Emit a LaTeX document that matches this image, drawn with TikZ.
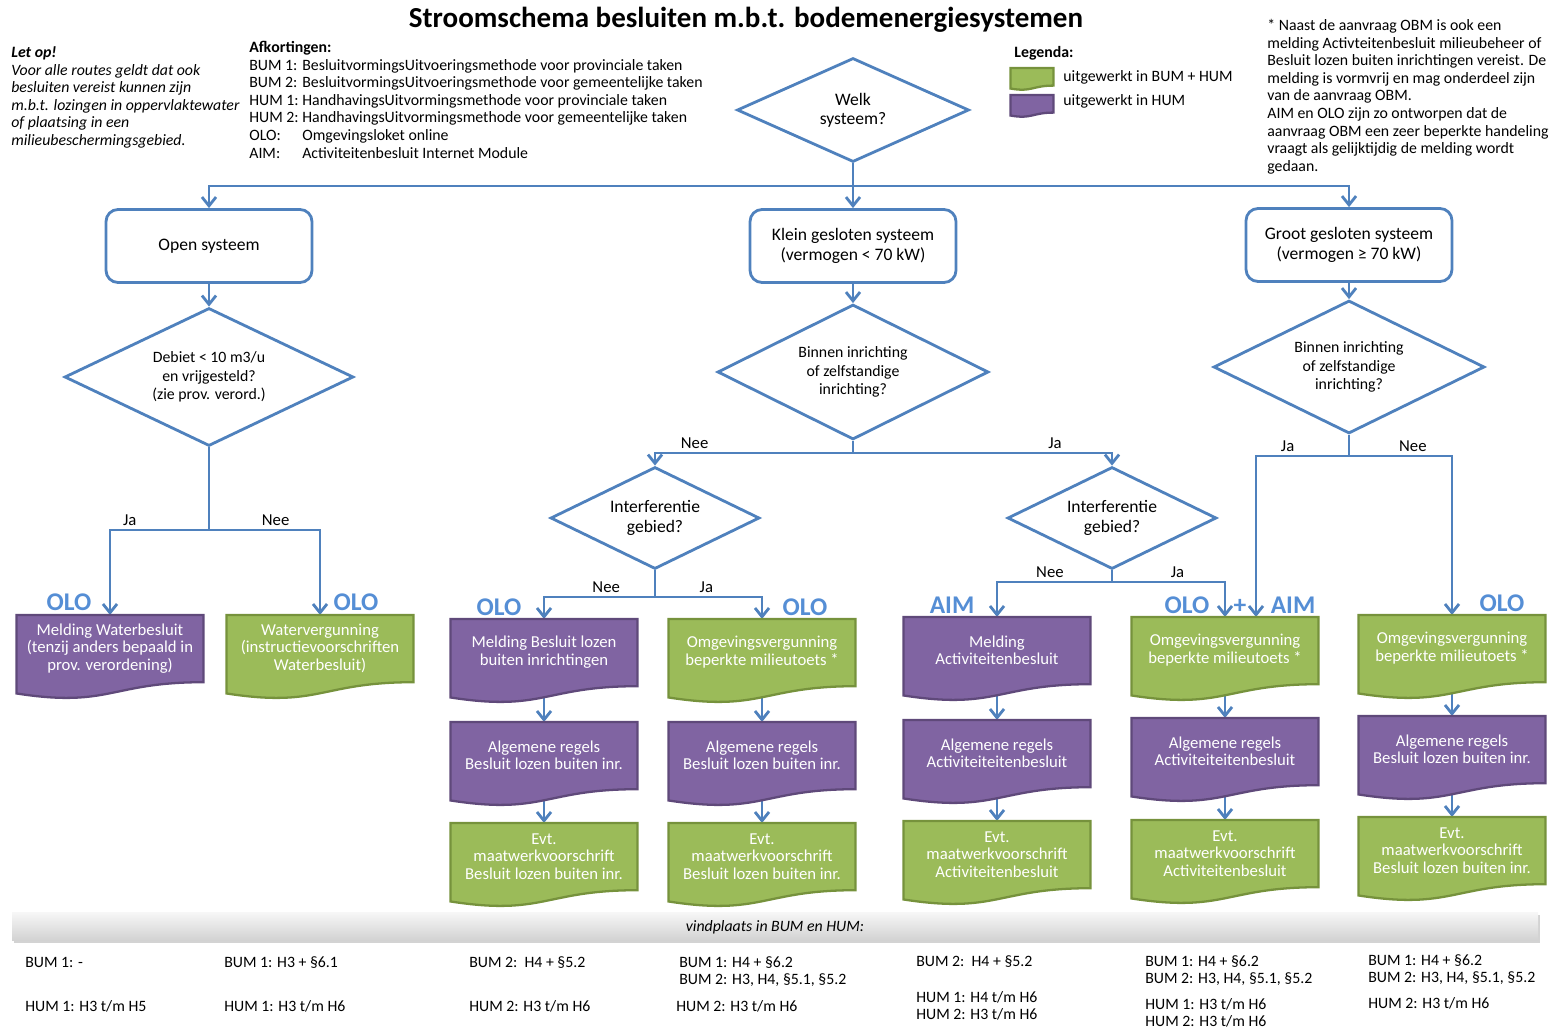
\documentclass[tikz,border=0pt]{standalone}
\usepackage{fontspec}
\setmainfont{Carlito}
\usetikzlibrary{shapes.geometric,arrows.meta,backgrounds,shadows}

\definecolor{lijnblauw}{RGB}{79,129,189}
\definecolor{labelblauw}{RGB}{85,142,213}
\definecolor{paarsvul}{RGB}{128,100,162}
\definecolor{paarsrand}{RGB}{95,73,122}
\definecolor{groenvul}{RGB}{155,187,89}
\definecolor{groenrand}{RGB}{118,146,60}

\tikzset{
  lijn/.style={draw=lijnblauw, line width=1.6pt},
  pijl/.style={lijn, -{Straight Barb[length=5pt,width=8pt]}},
  systeem/.style={lijn, rounded corners=0.24cm, minimum width=4.12cm, minimum height=1.46cm, align=center, font=\fontsize{10}{11}\selectfont},
  vraag/.style={lijn, diamond, aspect=2, inner sep=0pt, align=center, font=\fontsize{9}{10.5}\selectfont},
  paars/.style={fill=paarsvul, draw=paarsrand, line width=1.3pt},
  groen/.style={fill=groenvul, draw=groenrand, line width=1.3pt},
  doctekst/.style={anchor=north, minimum width=3.74cm, minimum height=1.32cm, inner sep=0pt, align=center, text=white, font=\fontsize{9.5}{10}\selectfont},
  loket/.style={anchor=base, text=labelblauw, font=\fontsize{14.5}{16}\selectfont\bfseries},
  keuze/.style={above, inner sep=1.5pt, font=\fontsize{9.5}{10}\selectfont},
  tekst/.style={anchor=north west, inner sep=0pt, font=\fontsize{9}{10}\selectfont},
  tekstw/.style={anchor=west, inner sep=0pt, font=\fontsize{9}{10}\selectfont},
  vind/.style={anchor=base west, inner sep=0pt, font=\fontsize{9}{10}\selectfont},
}

% document shape: centre x, top y, width, height, style
\newcommand\docvorm[5]{%
  \filldraw[#5] (#1-#3/2,#2) -- (#1+#3/2,#2) -- (#1+#3/2,#2+0.8*#4)
    .. controls (#1,#2+0.8*#4) and (#1,#2+1.107*#4) .. (#1-#3/2,#2+0.934*#4) -- cycle;}
% document with text: name, centre x, top y, style, text
\newcommand\docblok[5]{%
  \docvorm{#2}{#3}{187}{84}{#4}
  \node[doctekst] (#1) at (#2,#3) {#5};}

\begin{document}
\begin{tikzpicture}[x=0.02cm, y=-0.02cm]
\useasboundingbox (0,0) rectangle (1557,1030);

% titel, toelichting en legenda
\node[font=\fontsize{16.5}{18}\selectfont\bfseries] (titel) at (746,20) {Stroomschema besluiten m.b.t. bodemenergiesystemen};

\node[tekst, font=\fontsize{9}{10}\selectfont\itshape] (letop) at (11,45) {\begin{tabular}{@{}l@{}}
\textbf{Let op!}\\
Voor alle routes geldt dat ook\\
besluiten vereist kunnen zijn\\
m.b.t. lozingen in oppervlaktewater\\
of plaatsing in een\\
milieubeschermingsgebied.
\end{tabular}};

\node[tekst] (afkortingen) at (249,40) {\begin{tabular}{@{}p{1.06cm}@{}l@{}}
\multicolumn{2}{@{}l@{}}{\textbf{Afkortingen:}}\\
BUM 1: & BesluitvormingsUitvoeringsmethode voor provinciale taken\\
BUM 2: & BesluitvormingsUitvoeringsmethode voor gemeentelijke taken\\
HUM 1: & HandhavingsUitvormingsmethode voor provinciale taken\\
HUM 2: & HandhavingsUitvormingsmethode voor gemeentelijke taken\\
OLO: & Omgevingsloket online\\
AIM: & Activiteitenbesluit Internet Module
\end{tabular}};

\node[tekstw, font=\fontsize{9}{10}\selectfont\bfseries] (legenda) at (1014,53) {Legenda:};
\docvorm{1032}{68}{43}{22}{groen}
\docvorm{1032}{95}{43}{22}{paars}
\node[tekstw] (leggroen) at (1063,77) {uitgewerkt in BUM + HUM};
\node[tekstw] (legpaars) at (1063,101) {uitgewerkt in HUM};

\node[tekst] (voetnoot) at (1267,18) {\begin{tabular}{@{}l@{}}
* Naast de aanvraag OBM is ook een\\
melding Activteitenbesluit milieubeheer of\\
Besluit lozen buiten inrichtingen vereist. De\\
melding is vormvrij en mag onderdeel zijn\\
van de aanvraag OBM.\\
AIM en OLO zijn zo ontworpen dat de\\
aanvraag OBM een zeer beperkte handeling\\
vraagt als gelijktijdig de melding wordt\\
gedaan.
\end{tabular}};

% vragen en systemen
\node[vraag, minimum width=4.64cm, minimum height=2.08cm, font=\fontsize{10}{11}\selectfont] (welk) at (853,110) {Welk\\systeem?};
\node[systeem] (open) at (209,246) {Open systeem};
\node[systeem] (klein) at (853,246) {Klein gesloten systeem\\(vermogen < 70 kW)};
\node[systeem] (groot) at (1349,245) {Groot gesloten systeem\\(vermogen ≥ 70 kW)};
\node[vraag, minimum width=5.78cm, minimum height=2.76cm] (debiet) at (209,377) {Debiet < 10 m3/u\\en vrijgesteld?\\(zie prov. verord.)};
\node[vraag, minimum width=5.42cm, minimum height=2.7cm] (binnenk) at (853,372) {Binnen inrichting\\of zelfstandige\\inrichting?};
\node[vraag, minimum width=5.42cm, minimum height=2.66cm] (binneng) at (1349,367) {Binnen inrichting\\of zelfstandige\\inrichting?};
\node[vraag, minimum width=4.18cm, minimum height=2.04cm, font=\fontsize{10}{11}\selectfont] (interl) at (655,518) {Interferentie\\gebied?};
\node[vraag, minimum width=4.18cm, minimum height=2.04cm, font=\fontsize{10}{11}\selectfont] (interr) at (1112,518) {Interferentie\\gebied?};

% besluiten
\docblok{wmeld}{110}{615}{paars}{Melding Waterbesluit\\(tenzij anders bepaald in\\prov. verordening)}
\docblok{wverg}{320}{615}{groen}{Watervergunning\\(instructievoorschriften\\Waterbesluit)}

\docblok{lmeld}{544}{619}{paars}{Melding Besluit lozen\\buiten inrichtingen}
\docblok{lregels}{544}{722}{paars}{Algemene regels\\Besluit lozen buiten inr.}
\docblok{lmaat}{544}{823}{groen}{Evt.\\maatwerkvoorschrift\\Besluit lozen buiten inr.}

\docblok{obm1}{762}{619}{groen}{Omgevingsvergunning\\beperkte milieutoets *}
\docblok{oregels}{762}{722}{paars}{Algemene regels\\Besluit lozen buiten inr.}
\docblok{omaat}{762}{823}{groen}{Evt.\\maatwerkvoorschrift\\Besluit lozen buiten inr.}

\docblok{ameld}{997}{617}{paars}{Melding\\Activiteitenbesluit}
\docblok{aregels}{997}{720}{paars}{Algemene regels\\Activiteiteitenbesluit}
\docblok{amaat}{997}{821}{groen}{Evt.\\maatwerkvoorschrift\\Activiteitenbesluit}

\docblok{obm2}{1225}{617}{groen}{Omgevingsvergunning\\beperkte milieutoets *}
\docblok{a2regels}{1225}{718}{paars}{Algemene regels\\Activiteiteitenbesluit}
\docblok{a2maat}{1225}{820}{groen}{Evt.\\maatwerkvoorschrift\\Activiteitenbesluit}

\docblok{obm3}{1452}{615}{groen}{Omgevingsvergunning\\beperkte milieutoets *}
\docblok{gregels}{1452}{716}{paars}{Algemene regels\\Besluit lozen buiten inr.}
\docblok{gmaat}{1452}{817}{groen}{Evt.\\maatwerkvoorschrift\\Besluit lozen buiten inr.}

% loketten
\node[loket] (olo1) at (69,610) {OLO};
\node[loket] (olo2) at (356,610) {OLO};
\node[loket] (olo3) at (499,615) {OLO};
\node[loket] (olo4) at (805,615) {OLO};
\node[loket] (aim5) at (952,613) {AIM};
\node[loket] (olo6) at (1187,613) {OLO};
\node[loket] (plus6) at (1240,613) {+};
\node[loket] (aim6) at (1293,613) {AIM};
\node[loket] (olo7) at (1502,611) {OLO};

% verbindingen
\begin{scope}[on background layer]
\coordinate (welksplit) at (853,186);
\coordinate (debietsplit) at (209,530);
\coordinate (kleinsplit) at (853,453);
\coordinate (grootsplit) at (1349,456);
\coordinate (interlsplit) at (655,597);
\coordinate (interrsplit) at (1112,582);

\draw[lijn] (welk) -- (welksplit);
\draw[pijl] (welksplit) -| (open);
\draw[pijl] (welksplit) -- (klein);
\draw[pijl] (welksplit) -| (groot);
\draw[pijl] (open) -- (debiet);
\draw[pijl] (klein) -- (binnenk);
\draw[pijl] (groot) -- (binneng);

\draw[lijn] (debiet) -- (debietsplit);
\draw[pijl] (debietsplit) -| node[keuze, pos=0.4] {Ja} (wmeld);
\draw[pijl] (debietsplit) -| node[keuze, pos=0.3] {Nee} (wverg);

\draw[lijn] (binnenk) -- (kleinsplit);
\draw[pijl] (kleinsplit) -| node[keuze, pos=0.4] {Nee} (interl);
\draw[pijl] (kleinsplit) -| node[keuze, pos=0.39] {Ja} (interr);

\draw[lijn] (interl) -- (interlsplit);
\draw[pijl] (interlsplit) -| node[keuze, pos=0.22] {Nee} (lmeld);
\draw[pijl] (interlsplit) -| node[keuze, pos=0.24] {Ja} (obm1);

\draw[lijn] (interr) -- (interrsplit);
\draw[pijl] (interrsplit) -| node[keuze, pos=0.27] {Nee} (ameld);
\draw[pijl] (interrsplit) -| node[keuze, pos=0.29] {Ja} (obm2);

\draw[lijn] (binneng) -- (grootsplit);
\draw[pijl] (grootsplit) -| node[keuze, pos=0.33] {Ja} ([xshift=0.62cm]obm2.north);
\draw[pijl] (grootsplit) -| node[keuze, pos=0.31] {Nee} (obm3);

\foreach \a/\b in {lmeld/lregels, lregels/lmaat, obm1/oregels, oregels/omaat, ameld/aregels, aregels/amaat, obm2/a2regels, a2regels/a2maat, obm3/gregels, gregels/gmaat}
  \draw[pijl] (\a) -- (\b);
\end{scope}

% vindplaats
\path[drop shadow={opacity=0.35, shadow xshift=1pt, shadow yshift=-1.5pt}, top color=gray!6, bottom color=gray!35] (12,912) rectangle (1538,940);
\node[font=\fontsize{9}{10}\selectfont\itshape] (vindplaats) at (775,927) {vindplaats in BUM en HUM:};

\node[vind] (v1bum) at (25,967) {BUM 1: -};
\node[vind] (v1hum) at (25,1011) {HUM 1: H3 t/m H5};
\node[vind] (v2bum) at (224,967) {BUM 1: H3 + §6.1};
\node[vind] (v2hum) at (224,1011) {HUM 1: H3 t/m H6};
\node[vind] (v3bum) at (469,967) {BUM 2:\ \ H4 + §5.2};
\node[vind] (v3hum) at (469,1011) {HUM 2: H3 t/m H6};
\node[vind] (v4bum) at (679,967) {\begin{tabular}[t]{@{}l@{}}BUM 1: H4 + §6.2\\BUM 2: H3, H4, §5.1, §5.2\end{tabular}};
\node[vind] (v4hum) at (676,1011) {HUM 2: H3 t/m H6};
\node[vind] (v5bum) at (916,966) {BUM 2:\ \ H4 + §5.2};
\node[vind] (v5hum) at (916,1002) {\begin{tabular}[t]{@{}l@{}}HUM 1: H4 t/m H6\\HUM 2: H3 t/m H6\end{tabular}};
\node[vind] (v6bum) at (1145,966) {\begin{tabular}[t]{@{}l@{}}BUM 1: H4 + §6.2\\BUM 2: H3, H4, §5.1, §5.2\end{tabular}};
\node[vind] (v6hum) at (1145,1009) {\begin{tabular}[t]{@{}l@{}}HUM 1: H3 t/m H6\\HUM 2: H3 t/m H6\end{tabular}};
\node[vind] (v7bum) at (1368,965) {\begin{tabular}[t]{@{}l@{}}BUM 1: H4 + §6.2\\BUM 2: H3, H4, §5.1, §5.2\end{tabular}};
\node[vind] (v7hum) at (1368,1008) {HUM 2: H3 t/m H6};
\end{tikzpicture}
\end{document}
